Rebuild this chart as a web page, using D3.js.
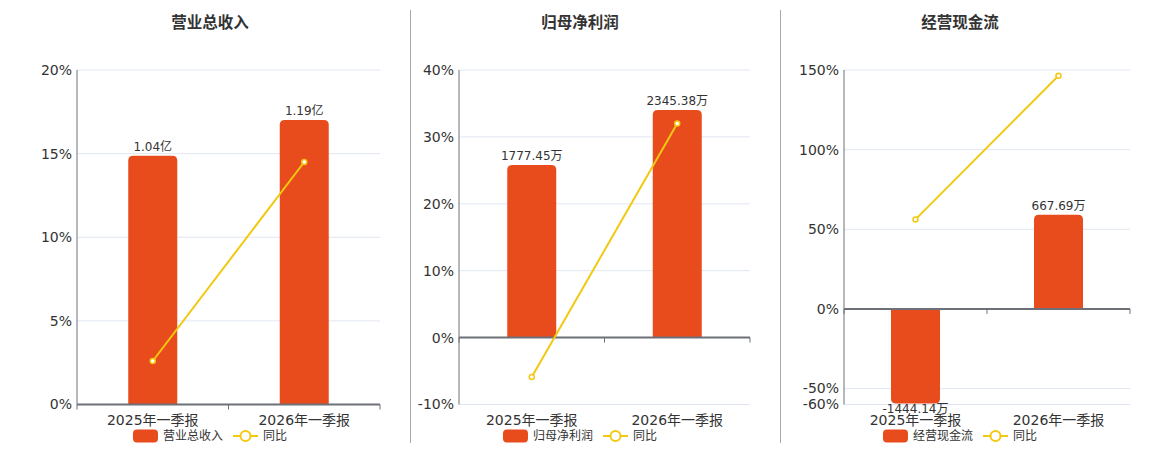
<!DOCTYPE html>
<meta charset="utf-8">
<script src="https://d3js.org/d3.v7.min.js"></script>
<style>
  body { margin: 0; background: #fff; }
  text { font-family: "DejaVu Sans", "Noto Sans CJK SC", sans-serif; }
</style>
<div id="chart"></div>
<script>
    // 数据
    const categories = ["2025年一季报", "2026年一季报"];
    const titles = ["营业总收入", "归母净利润", "经营现金流"];
    const units = ["亿", "万", "万"];
    const revenue = [1.04, 1.19];
    const netProfit = [1777.45, 2345.38];
    const cashFlow = [-1444.14, 667.69];
    const revenueYoy = [2.6, 14.5];
    const profitYoy = [-5.9, 32.0];
    const cashYoy = [56.2, 146.4];
    const pctTicks = [[0, 5, 10, 15, 20], [-10, 0, 10, 20, 30, 40], [-60, -50, 0, 50, 100, 150]];
    const barDomains = [[0, 1.4], [-690, 2760], [-680, 1700]];

    const barValues = [revenue, netProfit, cashFlow];
    const yoyValues = [revenueYoy, profitYoy, cashYoy];

    // 布局
    const W = 1160, H = 450;
    const plotTop = 70, plotBottom = 404.5;
    const panels = [
        {left: 77, right: 380, center: 210},
        {left: 459, right: 750, center: 580},
        {left: 844, right: 1130, center: 960}
    ];
    const barColor = "#e84b1c", lineColor = "#f2c811";
    const axisColor = "#6e7079", gridColor = "#e0e6f1", textColor = "#333";

    const svg = d3.select("#chart").append("svg")
        .attr("width", W).attr("height", H);

    // 分隔线
    [410.5, 780.5].forEach(x => {
        svg.append("line")
            .attr("x1", x).attr("x2", x).attr("y1", 10).attr("y2", 443)
            .attr("stroke", "#aaa").attr("stroke-width", 1);
    });

    function barPath(x, w, y0, y1, r) {
        const h = Math.abs(y1 - y0);
        r = Math.min(r, h / 2, w / 2);
        if (y1 < y0) { // 向上
            return `M${x},${y0}V${y1 + r}Q${x},${y1} ${x + r},${y1}H${x + w - r}Q${x + w},${y1} ${x + w},${y1 + r}V${y0}Z`;
        }
        return `M${x},${y0}V${y1 - r}Q${x},${y1} ${x + r},${y1}H${x + w - r}Q${x + w},${y1} ${x + w},${y1 - r}V${y0}Z`;
    }

    panels.forEach((p, i) => {
        const g = svg.append("g");
        const ticks = pctTicks[i];

        const x = d3.scaleBand().domain(categories).range([p.left, p.right]);
        const y = d3.scaleLinear().domain([ticks[0], ticks[ticks.length - 1]]).range([plotBottom, plotTop]);
        const yb = d3.scaleLinear().domain(barDomains[i]).range([plotBottom - 1, plotTop]).clamp(true);
        const zero = y(0);

        // 标题
        g.append("text")
            .attr("x", p.center).attr("y", 28)
            .attr("text-anchor", "middle")
            .attr("font-size", 15.5).attr("font-weight", "bold")
            .attr("fill", textColor)
            .text(titles[i]);

        // 网格线
        g.selectAll(".grid").data(ticks).join("line")
            .attr("x1", p.left).attr("x2", p.right)
            .attr("y1", d => y(d)).attr("y2", d => y(d))
            .attr("stroke", gridColor).attr("stroke-width", 1);

        // y轴
        g.append("line")
            .attr("x1", p.left).attr("x2", p.left)
            .attr("y1", plotTop).attr("y2", plotBottom)
            .attr("stroke", axisColor).attr("stroke-width", 1);
        g.selectAll(".ylab").data(ticks).join("text")
            .attr("x", p.left - 5).attr("y", d => y(d))
            .attr("dy", "0.35em")
            .attr("text-anchor", "end")
            .attr("font-size", 14).attr("fill", textColor)
            .text(d => d + "%");

        // 柱子
        const bw = 49;
        barValues[i].forEach((v, j) => {
            const cx = x(categories[j]) + x.bandwidth() / 2;
            const yv = yb(v);
            g.append("path")
                .attr("d", barPath(cx - bw / 2, bw, zero, yv, 5))
                .attr("fill", barColor);
            g.append("text")
                .attr("x", cx).attr("y", v >= 0 ? yv - 5 : yv + 9.5)
                .attr("text-anchor", "middle")
                .attr("font-size", 12).attr("fill", textColor)
                .text(v.toFixed(2) + units[i]);
        });

        // x轴
        g.append("line")
            .attr("x1", p.left).attr("x2", p.right)
            .attr("y1", zero).attr("y2", zero)
            .attr("stroke", axisColor).attr("stroke-width", 2);
        [p.left, p.left + x.bandwidth(), p.right].forEach(tx => {
            g.append("line")
                .attr("x1", tx).attr("x2", tx)
                .attr("y1", zero).attr("y2", zero + 5)
                .attr("stroke", axisColor).attr("stroke-width", 1);
        });
        g.selectAll(".xlab").data(categories).join("text")
            .attr("x", d => x(d) + x.bandwidth() / 2).attr("y", 425)
            .attr("text-anchor", "middle")
            .attr("font-size", 14).attr("fill", textColor)
            .text(d => d);

        // 同比折线
        const pts = yoyValues[i].map((v, j) => [x(categories[j]) + x.bandwidth() / 2, y(v)]);
        g.append("path")
            .attr("d", d3.line()(pts))
            .attr("fill", "none").attr("stroke", lineColor).attr("stroke-width", 2);
        g.selectAll(".pt").data(pts).join("circle")
            .attr("cx", d => d[0]).attr("cy", d => d[1]).attr("r", 2.5)
            .attr("fill", "#fff").attr("stroke", lineColor).attr("stroke-width", 1.5);

        // 图例
        const lg = g.append("g");
        lg.append("rect")
            .attr("x", 0).attr("y", 429.5).attr("width", 25).attr("height", 13).attr("rx", 4)
            .attr("fill", barColor);
        const t1 = lg.append("text")
            .attr("x", 30).attr("y", 436).attr("dy", "0.35em")
            .attr("font-size", 12).attr("fill", textColor)
            .text(titles[i]);
        const w1 = t1.node().getComputedTextLength();
        const lx = 30 + w1 + 10;
        lg.append("line")
            .attr("x1", lx).attr("x2", lx + 25).attr("y1", 436).attr("y2", 436)
            .attr("stroke", lineColor).attr("stroke-width", 2);
        lg.append("circle")
            .attr("cx", lx + 12.5).attr("cy", 436).attr("r", 5)
            .attr("fill", "#fff").attr("stroke", lineColor).attr("stroke-width", 2);
        const t2 = lg.append("text")
            .attr("x", lx + 30).attr("y", 436).attr("dy", "0.35em")
            .attr("font-size", 12).attr("fill", textColor)
            .text("同比");
        const total = lx + 30 + t2.node().getComputedTextLength();
        lg.attr("transform", `translate(${p.center - total / 2},0)`);
    });
</script>
